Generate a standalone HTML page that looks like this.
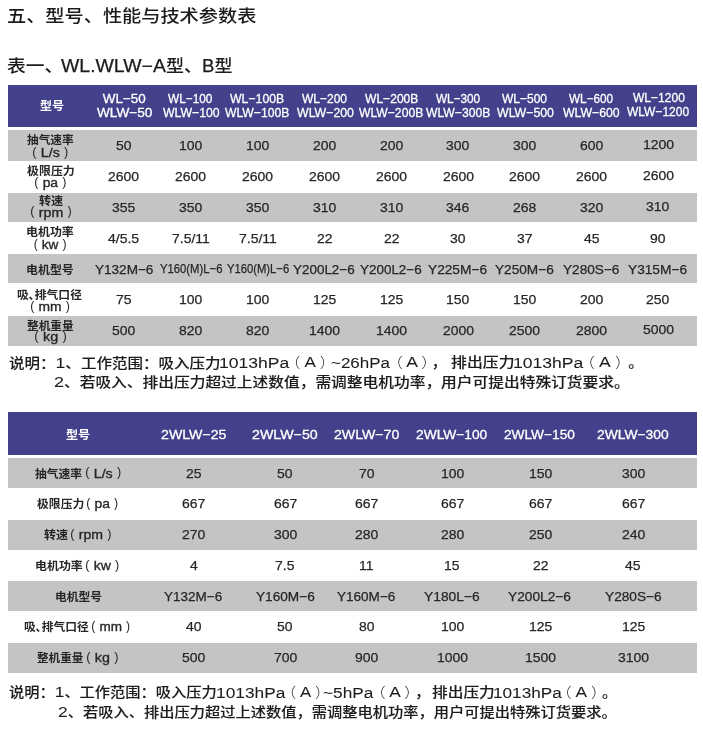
<!DOCTYPE html>
<html lang="zh-CN"><head><meta charset="utf-8"><title>型号、性能与技术参数表</title>
<style>html,body{margin:0;padding:0;background:#fff;}
body{filter:blur(0.45px);width:703px;height:731px;position:relative;overflow:hidden;font-family:"Liberation Sans","Noto Sans CJK SC",sans-serif;color:#262626;}
.r{position:absolute;}
.t{position:absolute;white-space:nowrap;line-height:1.3;transform-origin:0 0;}
.h1{font-size:17.5px;font-weight:500;color:#1c1c1c;}
.h2{font-size:17px;font-weight:500;color:#1c1c1c;}
.h2l{font-size:17.5px;color:#1c1c1c;-webkit-text-stroke:0.25px #1c1c1c;}
.n{font-size:13.6px;font-weight:500;-webkit-text-stroke:0.1px #1c1c1c;color:#1c1c1c;}
.n b,.nl{font-weight:400;font-size:15.5px;color:#1c1c1c;-webkit-text-stroke:0.05px #1c1c1c;}
.np{font-size:14px;font-weight:300;color:#1c1c1c;-webkit-text-stroke:0;}
.hd{font-size:13.4px;color:#fff;-webkit-text-stroke:0.3px #fff;}
.hl{font-size:11.3px;color:#fff;font-weight:700;}
.d{font-size:13.3px;-webkit-text-stroke:0.25px #262626;}
.lc{font-size:11.3px;font-weight:700;}
.lu{font-size:13.6px;-webkit-text-stroke:0.35px #262626;}
.lu i{font-style:normal;font-size:12.2px;vertical-align:1.1px;-webkit-text-stroke:0;margin:0 0.3px;}
</style></head>
<body>
<div class="r" style="left:7.75px;top:84.8px;width:689.4px;height:42.7px;background:#43418b"></div>
<div class="r" style="left:7.75px;top:130.1px;width:689.4px;height:30.6px;background:#c4c4c4"></div>
<div class="r" style="left:7.75px;top:192.5px;width:689.4px;height:29.8px;background:#c4c4c4"></div>
<div class="r" style="left:7.75px;top:254.2px;width:689.4px;height:29.2px;background:#c4c4c4"></div>
<div class="r" style="left:7.75px;top:316px;width:689.4px;height:29.5px;background:#c4c4c4"></div>
<div class="r" style="left:7.75px;top:412.2px;width:689.4px;height:42.6px;background:#43418b"></div>
<div class="r" style="left:7.75px;top:458.1px;width:689.4px;height:29.8px;background:#c4c4c4"></div>
<div class="r" style="left:7.75px;top:519.6px;width:689.4px;height:30.1px;background:#c4c4c4"></div>
<div class="r" style="left:7.75px;top:581.1px;width:689.4px;height:30.3px;background:#c4c4c4"></div>
<div class="r" style="left:7.75px;top:642.8px;width:689.4px;height:30.3px;background:#c4c4c4"></div>
<div class="t h1" style="left:7.00px;top:4.70px;transform:scaleX(1.096);">五、型号、性能与技术参数表</div>
<div class="t h2" style="left:6.70px;top:56.10px;transform:scaleX(1.103);">表一、</div>
<div class="t h2l" style="left:61.00px;top:54.70px;transform:scaleX(1.110);">WL.WLW−A</div>
<div class="t h2" style="left:166.14px;top:55.20px;transform:scaleX(1.061);">型、<span class="h2l">B</span>型</div>
<div class="t hl" style="left:40.20px;top:99.00px;transform:scaleX(1.064);">型号</div>
<div class="t hd" style="left:102.80px;top:90.30px;">WL−50</div>
<div class="t hd" style="left:96.50px;top:104.00px;transform:scaleX(1.017);">WLW−50</div>
<div class="t hd" style="left:168.20px;top:90.30px;transform:scaleX(0.884);">WL−100</div>
<div class="t hd" style="left:162.50px;top:104.00px;transform:scaleX(0.916);">WLW−100</div>
<div class="t hd" style="left:230.30px;top:90.30px;transform:scaleX(0.916);">WL−100B</div>
<div class="t hd" style="left:224.90px;top:104.00px;transform:scaleX(0.909);">WLW−100B</div>
<div class="t hd" style="left:301.90px;top:90.30px;transform:scaleX(0.896);">WL−200</div>
<div class="t hd" style="left:296.60px;top:104.00px;transform:scaleX(0.920);">WLW−200</div>
<div class="t hd" style="left:364.60px;top:90.30px;transform:scaleX(0.902);">WL−200B</div>
<div class="t hd" style="left:359.30px;top:104.00px;transform:scaleX(0.907);">WLW−200B</div>
<div class="t hd" style="left:435.70px;top:90.30px;transform:scaleX(0.878);">WL−300</div>
<div class="t hd" style="left:425.80px;top:104.00px;transform:scaleX(0.909);">WLW−300B</div>
<div class="t hd" style="left:501.90px;top:90.30px;transform:scaleX(0.896);">WL−500</div>
<div class="t hd" style="left:496.60px;top:104.00px;transform:scaleX(0.920);">WLW−500</div>
<div class="t hd" style="left:569.10px;top:90.30px;transform:scaleX(0.878);">WL−600</div>
<div class="t hd" style="left:563.10px;top:104.00px;transform:scaleX(0.916);">WLW−600</div>
<div class="t hd" style="left:632.70px;top:89.30px;transform:scaleX(0.900);">WL−1200</div>
<div class="t hd" style="left:626.70px;top:103.00px;transform:scaleX(0.896);">WLW−1200</div>
<div class="t lc" style="left:27.20px;top:133.30px;transform:scaleX(1.033);">抽气速率</div>
<div class="t lu" style="left:31.85px;top:144.40px;transform:scaleX(1.045);"><i>(</i> L/s <i>)</i></div>
<div class="t lc" style="left:27.20px;top:163.70px;transform:scaleX(1.057);">极限压力</div>
<div class="t lu" style="left:33.78px;top:174.20px;transform:scaleX(1.023);"><i>(</i> pa <i>)</i></div>
<div class="t lc" style="left:38.70px;top:193.60px;transform:scaleX(1.068);">转速</div>
<div class="t lu" style="left:29.56px;top:203.50px;transform:scaleX(1.045);"><i>(</i> rpm <i>)</i></div>
<div class="t lc" style="left:26.14px;top:225.00px;transform:scaleX(1.057);">电机功率</div>
<div class="t lu" style="left:33.40px;top:236.30px;"><i>(</i> kw <i>)</i></div>
<div class="t lc" style="left:26.14px;top:263.10px;transform:scaleX(1.057);">电机型号</div>
<div class="t lc" style="left:17.45px;top:287.60px;transform:scaleX(1.046);">吸､排气口径</div>
<div class="t lu" style="left:29.98px;top:298.00px;transform:scaleX(1.018);"><i>(</i> mm <i>)</i></div>
<div class="t lc" style="left:27.20px;top:318.60px;transform:scaleX(1.033);">整机重量</div>
<div class="t lu" style="left:33.74px;top:328.10px;transform:scaleX(1.059);"><i>(</i> kg <i>)</i></div>
<div class="t d" style="left:116.13px;top:137.10px;transform:scaleX(1.050);">50</div>
<div class="t d" style="left:179.15px;top:137.10px;transform:scaleX(1.050);">100</div>
<div class="t d" style="left:246.15px;top:137.10px;transform:scaleX(1.050);">100</div>
<div class="t d" style="left:312.65px;top:137.10px;transform:scaleX(1.050);">200</div>
<div class="t d" style="left:379.65px;top:137.10px;transform:scaleX(1.050);">200</div>
<div class="t d" style="left:446.45px;top:137.10px;transform:scaleX(1.050);">300</div>
<div class="t d" style="left:512.85px;top:137.10px;transform:scaleX(1.050);">300</div>
<div class="t d" style="left:579.95px;top:137.10px;transform:scaleX(1.050);">600</div>
<div class="t d" style="left:642.56px;top:135.90px;transform:scaleX(1.050);">1200</div>
<div class="t d" style="left:108.36px;top:167.95px;transform:scaleX(1.050);">2600</div>
<div class="t d" style="left:175.26px;top:167.95px;transform:scaleX(1.050);">2600</div>
<div class="t d" style="left:242.26px;top:167.95px;transform:scaleX(1.050);">2600</div>
<div class="t d" style="left:308.76px;top:167.95px;transform:scaleX(1.050);">2600</div>
<div class="t d" style="left:375.76px;top:167.95px;transform:scaleX(1.050);">2600</div>
<div class="t d" style="left:442.56px;top:167.95px;transform:scaleX(1.050);">2600</div>
<div class="t d" style="left:508.96px;top:167.95px;transform:scaleX(1.050);">2600</div>
<div class="t d" style="left:576.06px;top:167.95px;transform:scaleX(1.050);">2600</div>
<div class="t d" style="left:642.56px;top:167.05px;transform:scaleX(1.050);">2600</div>
<div class="t d" style="left:112.25px;top:198.80px;transform:scaleX(1.050);">355</div>
<div class="t d" style="left:179.15px;top:198.80px;transform:scaleX(1.050);">350</div>
<div class="t d" style="left:246.15px;top:198.80px;transform:scaleX(1.050);">350</div>
<div class="t d" style="left:312.65px;top:198.80px;transform:scaleX(1.050);">310</div>
<div class="t d" style="left:379.65px;top:198.80px;transform:scaleX(1.050);">310</div>
<div class="t d" style="left:446.45px;top:198.80px;transform:scaleX(1.050);">346</div>
<div class="t d" style="left:512.85px;top:198.80px;transform:scaleX(1.050);">268</div>
<div class="t d" style="left:579.95px;top:198.80px;transform:scaleX(1.050);">320</div>
<div class="t d" style="left:646.45px;top:197.90px;transform:scaleX(1.050);">310</div>
<div class="t d" style="left:108.37px;top:229.65px;transform:scaleX(1.050);">4/5.5</div>
<div class="t d" style="left:171.91px;top:229.65px;transform:scaleX(1.050);">7.5/11</div>
<div class="t d" style="left:238.91px;top:229.65px;transform:scaleX(1.050);">7.5/11</div>
<div class="t d" style="left:316.53px;top:229.65px;transform:scaleX(1.050);">22</div>
<div class="t d" style="left:383.53px;top:229.65px;transform:scaleX(1.050);">22</div>
<div class="t d" style="left:450.33px;top:229.65px;transform:scaleX(1.050);">30</div>
<div class="t d" style="left:516.73px;top:229.65px;transform:scaleX(1.050);">37</div>
<div class="t d" style="left:583.83px;top:229.65px;transform:scaleX(1.050);">45</div>
<div class="t d" style="left:650.33px;top:229.65px;transform:scaleX(1.050);">90</div>
<div class="t d" style="left:94.50px;top:260.50px;transform:scaleX(1.019);">Y132M−6</div>
<div class="t d" style="left:159.80px;top:260.30px;transform:scaleX(0.849);">Y160(M)L−6</div>
<div class="t d" style="left:226.90px;top:260.30px;transform:scaleX(0.845);">Y160(M)L−6</div>
<div class="t d" style="left:293.00px;top:260.50px;transform:scaleX(1.011);">Y200L2−6</div>
<div class="t d" style="left:360.10px;top:260.50px;transform:scaleX(1.011);">Y200L2−6</div>
<div class="t d" style="left:428.40px;top:260.50px;transform:scaleX(1.030);">Y225M−6</div>
<div class="t d" style="left:495.40px;top:260.50px;transform:scaleX(1.025);">Y250M−6</div>
<div class="t d" style="left:563.10px;top:260.50px;transform:scaleX(1.024);">Y280S−6</div>
<div class="t d" style="left:628.40px;top:260.50px;transform:scaleX(1.030);">Y315M−6</div>
<div class="t d" style="left:116.13px;top:291.35px;transform:scaleX(1.050);">75</div>
<div class="t d" style="left:179.15px;top:291.35px;transform:scaleX(1.050);">100</div>
<div class="t d" style="left:246.15px;top:291.35px;transform:scaleX(1.050);">100</div>
<div class="t d" style="left:312.65px;top:291.35px;transform:scaleX(1.050);">125</div>
<div class="t d" style="left:379.65px;top:291.35px;transform:scaleX(1.050);">125</div>
<div class="t d" style="left:446.45px;top:291.35px;transform:scaleX(1.050);">150</div>
<div class="t d" style="left:512.85px;top:291.35px;transform:scaleX(1.050);">150</div>
<div class="t d" style="left:579.95px;top:291.35px;transform:scaleX(1.050);">200</div>
<div class="t d" style="left:646.45px;top:291.35px;transform:scaleX(1.050);">250</div>
<div class="t d" style="left:112.25px;top:322.20px;transform:scaleX(1.050);">500</div>
<div class="t d" style="left:179.15px;top:322.20px;transform:scaleX(1.050);">820</div>
<div class="t d" style="left:246.15px;top:322.20px;transform:scaleX(1.050);">820</div>
<div class="t d" style="left:308.76px;top:322.20px;transform:scaleX(1.050);">1400</div>
<div class="t d" style="left:375.76px;top:322.20px;transform:scaleX(1.050);">1400</div>
<div class="t d" style="left:442.56px;top:322.20px;transform:scaleX(1.050);">2000</div>
<div class="t d" style="left:508.96px;top:322.20px;transform:scaleX(1.050);">2500</div>
<div class="t d" style="left:576.06px;top:322.20px;transform:scaleX(1.050);">2800</div>
<div class="t d" style="left:642.56px;top:321.00px;transform:scaleX(1.050);">5000</div>
<div class="t n" style="left:8.50px;top:352.90px;transform:scaleX(1.141);">说明：<b>1</b>、工作范围：吸入压力</div>
<div class="t nl" style="left:219.47px;top:353.40px;transform:scaleX(1.131);">1013hPa</div>
<div class="t n" style="left:285.04px;top:352.40px;transform:scaleX(1.096);"><span class="np" style="letter-spacing:3.7px">（</span><b>A</b><span class="np" style="margin-left:3.7px">）</span></div>
<div class="t nl" style="left:331.21px;top:353.40px;transform:scaleX(1.094);">~26hPa</div>
<div class="t n" style="left:386.68px;top:352.40px;transform:scaleX(1.132);"><span class="np" style="letter-spacing:3.0px">（</span><b>A</b><span class="np" style="margin-left:3.0px">）</span><span style="margin-left:2px">，</span></div>
<div class="t n" style="left:451.20px;top:354.40px;transform:scaleX(1.168);">排出压力</div>
<div class="t nl" style="left:513.27px;top:353.40px;transform:scaleX(1.133);">1013hPa</div>
<div class="t n" style="left:579.46px;top:352.40px;transform:scaleX(1.134);"><span class="np" style="letter-spacing:3.7px">（</span><b>A</b><span class="np" style="margin-left:3.7px">）</span><span style="margin-left:4.6px">。</span></div>
<div class="t n" style="left:54.44px;top:372.10px;transform:scaleX(1.156);"><b>2</b>、若吸入、排出压力超过上述数值，需调整电机功率，用户可提出特殊订货要求。</div>
<div class="t hl" style="left:65.80px;top:427.60px;transform:scaleX(1.064);">型号</div>
<div class="t hd" style="left:160.74px;top:425.70px;transform:scaleX(1.058);">2WLW−25</div>
<div class="t hd" style="left:251.84px;top:425.70px;transform:scaleX(1.062);">2WLW−50</div>
<div class="t hd" style="left:333.94px;top:425.70px;transform:scaleX(1.055);">2WLW−70</div>
<div class="t hd" style="left:415.77px;top:425.70px;transform:scaleX(1.028);">2WLW−100</div>
<div class="t hd" style="left:504.48px;top:425.70px;transform:scaleX(1.022);">2WLW−150</div>
<div class="t hd" style="left:596.87px;top:425.70px;transform:scaleX(1.034);">2WLW−300</div>
<div class="t lc" style="left:34.70px;top:466.70px;transform:scaleX(1.042);">抽气速率</div>
<div class="t lu" style="left:84.56px;top:464.50px;transform:scaleX(1.042);"><i>(</i> L/s <i>)</i></div>
<div class="t d" style="left:186.13px;top:464.70px;transform:scaleX(1.050);">25</div>
<div class="t d" style="left:277.43px;top:464.70px;transform:scaleX(1.050);">50</div>
<div class="t d" style="left:358.93px;top:464.70px;transform:scaleX(1.050);">70</div>
<div class="t d" style="left:440.55px;top:464.70px;transform:scaleX(1.050);">100</div>
<div class="t d" style="left:528.75px;top:464.70px;transform:scaleX(1.050);">150</div>
<div class="t d" style="left:621.55px;top:464.70px;transform:scaleX(1.050);">300</div>
<div class="t lc" style="left:37.10px;top:497.42px;transform:scaleX(1.048);">极限压力</div>
<div class="t lu" style="left:86.18px;top:495.22px;transform:scaleX(1.017);"><i>(</i> pa <i>)</i></div>
<div class="t d" style="left:182.25px;top:495.42px;transform:scaleX(1.050);">667</div>
<div class="t d" style="left:273.55px;top:495.42px;transform:scaleX(1.050);">667</div>
<div class="t d" style="left:355.05px;top:495.42px;transform:scaleX(1.050);">667</div>
<div class="t d" style="left:440.55px;top:495.42px;transform:scaleX(1.050);">667</div>
<div class="t d" style="left:528.75px;top:495.42px;transform:scaleX(1.050);">667</div>
<div class="t d" style="left:621.55px;top:495.42px;transform:scaleX(1.050);">667</div>
<div class="t lc" style="left:43.80px;top:528.14px;transform:scaleX(1.064);">转速</div>
<div class="t lu" style="left:70.16px;top:525.94px;transform:scaleX(1.037);"><i>(</i> rpm <i>)</i></div>
<div class="t d" style="left:182.25px;top:526.14px;transform:scaleX(1.050);">270</div>
<div class="t d" style="left:273.55px;top:526.14px;transform:scaleX(1.050);">300</div>
<div class="t d" style="left:355.05px;top:526.14px;transform:scaleX(1.050);">280</div>
<div class="t d" style="left:440.55px;top:526.14px;transform:scaleX(1.050);">280</div>
<div class="t d" style="left:528.75px;top:526.14px;transform:scaleX(1.050);">250</div>
<div class="t d" style="left:621.55px;top:526.14px;transform:scaleX(1.050);">240</div>
<div class="t lc" style="left:34.64px;top:558.86px;transform:scaleX(1.057);">电机功率</div>
<div class="t lu" style="left:85.17px;top:556.66px;transform:scaleX(1.034);"><i>(</i> kw <i>)</i></div>
<div class="t d" style="left:190.01px;top:556.86px;transform:scaleX(1.050);">4</div>
<div class="t d" style="left:275.49px;top:556.86px;transform:scaleX(1.050);">7.5</div>
<div class="t d" style="left:359.45px;top:556.86px;transform:scaleX(1.050);">11</div>
<div class="t d" style="left:444.43px;top:556.86px;transform:scaleX(1.050);">15</div>
<div class="t d" style="left:532.63px;top:556.86px;transform:scaleX(1.050);">22</div>
<div class="t d" style="left:625.43px;top:556.86px;transform:scaleX(1.050);">45</div>
<div class="t lc" style="left:54.76px;top:589.58px;transform:scaleX(1.041);">电机型号</div>
<div class="t d" style="left:164.10px;top:587.58px;transform:scaleX(1.016);">Y132M−6</div>
<div class="t d" style="left:255.50px;top:587.58px;transform:scaleX(1.026);">Y160M−6</div>
<div class="t d" style="left:337.30px;top:587.58px;transform:scaleX(1.018);">Y160M−6</div>
<div class="t d" style="left:424.20px;top:587.58px;transform:scaleX(1.040);">Y180L−6</div>
<div class="t d" style="left:508.40px;top:587.58px;transform:scaleX(1.031);">Y200L2−6</div>
<div class="t d" style="left:604.60px;top:587.58px;transform:scaleX(1.029);">Y280S−6</div>
<div class="t lc" style="left:23.66px;top:620.30px;transform:scaleX(1.041);">吸､排气口径</div>
<div class="t lu" style="left:91.21px;top:618.10px;transform:scaleX(0.995);"><i>(</i> mm <i>)</i></div>
<div class="t d" style="left:186.13px;top:618.30px;transform:scaleX(1.050);">40</div>
<div class="t d" style="left:277.43px;top:618.30px;transform:scaleX(1.050);">50</div>
<div class="t d" style="left:358.93px;top:618.30px;transform:scaleX(1.050);">80</div>
<div class="t d" style="left:440.55px;top:618.30px;transform:scaleX(1.050);">100</div>
<div class="t d" style="left:528.75px;top:618.30px;transform:scaleX(1.050);">125</div>
<div class="t d" style="left:621.55px;top:618.30px;transform:scaleX(1.050);">125</div>
<div class="t lc" style="left:37.10px;top:651.02px;transform:scaleX(1.024);">整机重量</div>
<div class="t lu" style="left:86.15px;top:648.82px;transform:scaleX(1.052);"><i>(</i> kg <i>)</i></div>
<div class="t d" style="left:182.25px;top:649.02px;transform:scaleX(1.050);">500</div>
<div class="t d" style="left:273.55px;top:649.02px;transform:scaleX(1.050);">700</div>
<div class="t d" style="left:355.05px;top:649.02px;transform:scaleX(1.050);">900</div>
<div class="t d" style="left:436.66px;top:649.02px;transform:scaleX(1.050);">1000</div>
<div class="t d" style="left:524.86px;top:649.02px;transform:scaleX(1.050);">1500</div>
<div class="t d" style="left:617.66px;top:649.02px;transform:scaleX(1.050);">3100</div>
<div class="t n" style="left:8.90px;top:682.20px;transform:scaleX(1.121);">说明：<b>1</b>、工作范围：吸入压力</div>
<div class="t nl" style="left:215.98px;top:682.70px;transform:scaleX(1.118);">1013hPa</div>
<div class="t n" style="left:280.89px;top:681.70px;transform:scaleX(1.081);"><span class="np" style="letter-spacing:3.6px">（</span><b>A</b><span class="np" style="margin-left:3.6px">）</span></div>
<div class="t nl" style="left:323.39px;top:682.70px;transform:scaleX(1.114);">~5hPa</div>
<div class="t n" style="left:369.53px;top:681.70px;transform:scaleX(1.117);"><span class="np" style="letter-spacing:3.2px">（</span><b>A</b><span class="np" style="margin-left:3.2px">）</span><span style="margin-left:2.5px">，</span></div>
<div class="t n" style="left:432.00px;top:683.70px;transform:scaleX(1.155);">排出压力</div>
<div class="t nl" style="left:493.09px;top:682.70px;transform:scaleX(1.108);">1013hPa</div>
<div class="t n" style="left:555.93px;top:681.70px;transform:scaleX(1.117);"><span class="np" style="letter-spacing:3.5px">（</span><b>A</b><span class="np" style="margin-left:3.5px">）</span><span style="margin-left:2.9px">。</span></div>
<div class="t n" style="left:57.58px;top:702.00px;transform:scaleX(1.122);"><b>2</b>、若吸入、排出压力超过上述数值，需调整电机功率，用户可提出特殊订货要求。</div>
</body></html>
